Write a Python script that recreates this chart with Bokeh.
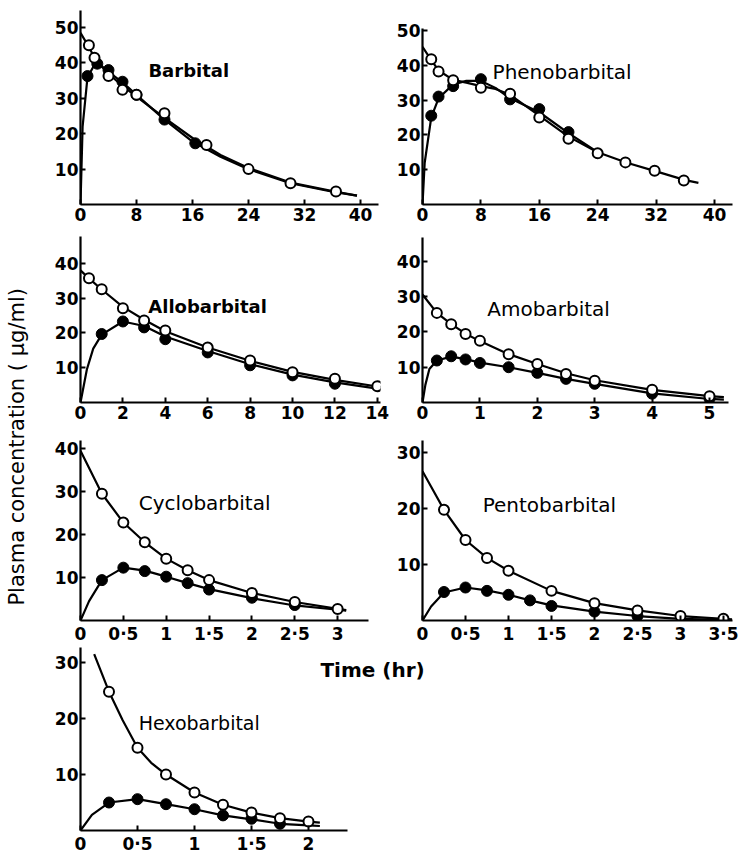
import math
from bokeh.plotting import figure
from bokeh.layouts import row, column
from bokeh.models import Range1d, FixedTicker, Label
from bokeh.embed import file_html
from bokeh.resources import INLINE

# ---------------- data ----------------
# Barbital (time in hr)
barb_t_iv = [1.2, 2, 4, 6, 8, 12, 18, 24, 30, 36.5]
barb_c_iv = [45, 41.5, 36.3, 32.4, 31, 25.8, 16.8, 10, 6, 3.7]
barb_t_po = [1, 2.4, 4, 6, 8, 12, 16.4]
barb_c_po = [36.3, 39.8, 38, 34.7, 31, 24, 17.3]
barb_fit_iv_t = [0, 1.2, 2, 4, 6, 8, 12, 16, 20, 24, 30, 36, 39.5]
barb_fit_iv_c = [48.5, 44.5, 41.5, 37, 33.5, 30.5, 24.5, 18.8, 14, 10.3, 6.2, 3.8, 2.5]
barb_fit_po_t = [0, 0.3, 1, 2, 3, 4, 6, 8, 12, 16, 20, 24, 30, 36, 39.5]
barb_fit_po_c = [0, 22, 36, 39.5, 39, 37.5, 34.5, 31, 24, 17.8, 13.5, 10, 6, 3.6, 2.5]

# Phenobarbital
phen_t_iv = [1.2, 2.2, 4.2, 8, 12, 16, 20, 24, 27.8, 31.8, 35.8]
phen_c_iv = [41.7, 38.2, 35.7, 33.5, 31.8, 25, 18.9, 14.7, 12.1, 9.7, 6.9]
phen_t_po = [1.2, 2.2, 4.2, 8, 12, 16, 20]
phen_c_po = [25.5, 31, 34, 36, 30.2, 27.4, 20.8]
phen_fit_iv_t = [0, 1.2, 2.2, 4.2, 6, 8, 10, 12, 16, 20, 24, 28, 32, 36, 37.8]
phen_fit_iv_c = [45.3, 41.5, 38.5, 35.8, 35, 34, 33.2, 31.5, 25.5, 19.5, 15, 12, 9.5, 7, 6.2]
phen_fit_po_t = [0, 0.3, 1.2, 2.2, 4.2, 6, 8, 10, 12, 16, 20, 24]
phen_fit_po_c = [0, 12, 25, 30.5, 34.5, 35.5, 35.5, 33.5, 30.5, 26.5, 20.5, 15]

# Allobarbital
allo_t_iv = [0.4, 1, 2, 3, 4, 6, 8, 10, 12, 14]
allo_c_iv = [35.7, 32.6, 27.1, 23.6, 20.7, 15.8, 12.1, 8.7, 6.8, 4.7]
allo_t_po = [1, 2, 3, 4, 6, 8, 10, 12]
allo_c_po = [19.7, 23.3, 21.6, 18.2, 14.4, 10.7, 7.8, 5.4]
allo_fit_iv_t = [0, 0.4, 1, 2, 3, 4, 6, 8, 10, 12, 14, 14.3]
allo_fit_iv_c = [38, 35.7, 32.5, 27.5, 23.8, 20.5, 15.8, 12, 8.8, 6.5, 4.6, 4.4]
allo_fit_po_t = [0, 0.3, 0.6, 1, 2, 3, 4, 6, 8, 10, 12, 14, 14.3]
allo_fit_po_c = [0, 9.5, 15.5, 19.5, 23.3, 22, 19, 14.8, 11, 8, 5.8, 4, 3.8]

# Amobarbital
amo_t_iv = [0.25, 0.5, 0.75, 1, 1.5, 2, 2.5, 3, 4, 5]
amo_c_iv = [25.4, 22.2, 19.4, 17.5, 13.7, 10.9, 8.1, 6.2, 3.6, 1.8]
amo_t_po = [0.25, 0.5, 0.75, 1, 1.5, 2, 2.5, 3, 4, 5]
amo_c_po = [11.9, 13.1, 12.2, 11.2, 10, 8.4, 6.7, 5.3, 2.5, 1.1]
amo_fit_iv_t = [0, 0.25, 0.5, 0.75, 1, 1.5, 2, 2.5, 3, 4, 5, 5.25]
amo_fit_iv_c = [30.6, 25.4, 22.2, 19.5, 17.4, 13.7, 10.9, 8.3, 6.3, 3.6, 1.8, 1.5]
amo_fit_po_t = [0, 0.05, 0.12, 0.25, 0.5, 0.75, 1, 1.5, 2, 2.5, 3, 4, 5, 5.25]
amo_fit_po_c = [0, 5, 9.5, 11.9, 13, 12.3, 11.3, 10, 8.4, 6.7, 5.3, 2.6, 1, 0.8]

# Cyclobarbital
cyc_t_iv = [0.25, 0.5, 0.75, 1, 1.25, 1.5, 2, 2.5, 3]
cyc_c_iv = [29.5, 22.8, 18.2, 14.4, 11.7, 9.4, 6.4, 4.3, 2.7]
cyc_t_po = [0.25, 0.5, 0.75, 1, 1.25, 1.5, 2, 2.5]
cyc_c_po = [9.4, 12.3, 11.5, 10.2, 8.7, 7.2, 5.3, 3.6]
cyc_fit_iv_t = [0, 0.25, 0.5, 0.75, 1, 1.25, 1.5, 2, 2.5, 3, 3.1]
cyc_fit_iv_c = [39.5, 29.5, 22.8, 18.2, 14.4, 11.7, 9.4, 6.4, 4.3, 2.7, 2.4]
cyc_fit_po_t = [0, 0.1, 0.25, 0.5, 0.75, 1, 1.25, 1.5, 2, 2.5, 3, 3.1]
cyc_fit_po_c = [0, 4.5, 9.4, 12.3, 11.6, 10.2, 8.7, 7.3, 5.2, 3.5, 2.5, 2.3]

# Pentobarbital
pen_t_iv = [0.25, 0.5, 0.75, 1, 1.5, 2, 2.5, 3, 3.5]
pen_c_iv = [19.8, 14.4, 11.2, 8.9, 5.3, 3.1, 1.8, 0.8, 0.3]
pen_t_po = [0.25, 0.5, 0.75, 1, 1.25, 1.5, 2, 2.5]
pen_c_po = [5.1, 5.9, 5.3, 4.6, 3.6, 2.6, 1.6, 0.8]
pen_fit_iv_t = [0, 0.25, 0.5, 0.75, 1, 1.5, 2, 2.5, 3, 3.5, 3.6]
pen_fit_iv_c = [26.7, 19.8, 14.4, 11.2, 8.9, 5.3, 3.1, 1.8, 0.8, 0.3, 0.2]
pen_fit_po_t = [0, 0.1, 0.25, 0.5, 0.75, 1, 1.25, 1.5, 2, 2.5, 3, 3.5, 3.6]
pen_fit_po_c = [0, 2.5, 5, 5.9, 5.4, 4.6, 3.6, 2.7, 1.6, 0.8, 0.3, 0.1, 0]

# Hexobarbital
hex_t_iv = [0.25, 0.5, 0.75, 1, 1.25, 1.5, 1.75, 2]
hex_c_iv = [24.8, 14.8, 10.0, 6.8, 4.6, 3.2, 2.2, 1.6]
hex_t_po = [0.25, 0.5, 0.75, 1, 1.25, 1.5, 1.75]
hex_c_po = [5.0, 5.6, 4.7, 3.8, 2.7, 2.1, 1.2]
hex_fit_iv_t = [0.12, 0.25, 0.37, 0.5, 0.62, 0.75, 1, 1.25, 1.5, 1.75, 2, 2.1]
hex_fit_iv_c = [31.5, 24.8, 19.7, 14.8, 12.1, 10, 6.8, 4.6, 3.2, 2.2, 1.6, 1.4]
hex_fit_po_t = [0, 0.1, 0.25, 0.5, 0.75, 1, 1.25, 1.5, 1.75, 2, 2.1]
hex_fit_po_c = [0, 2.8, 5, 5.6, 4.7, 3.8, 2.7, 2.0, 1.2, 0.9, 0.8]

# tick values / labels
ticks_x_40 = [0, 8, 16, 24, 32, 40]
ticks_x_14 = [0, 2, 4, 6, 8, 10, 12, 14]
ticks_x_5 = [0, 1, 2, 3, 4, 5]
ticks_x_3 = [0, 0.5, 1, 1.5, 2, 2.5, 3]
ticks_x_35 = [0, 0.5, 1, 1.5, 2, 2.5, 3, 3.5]
ticks_x_2 = [0, 0.5, 1, 1.5, 2]
ticks_y_50 = [10, 20, 30, 40, 50]
ticks_y_40 = [10, 20, 30, 40]
ticks_y_30 = [10, 20, 30]
half_labels = {0.5: "0·5", 1.5: "1·5", 2.5: "2·5", 3.5: "3·5"}

names = ["Barbital", "Phenobarbital", "Allobarbital", "Amobarbital",
         "Cyclobarbital", "Pentobarbital", "Hexobarbital"]
y_title = "Plasma  concentration ( μg/ml)"
x_title = "Time  (hr)"

FONT = "DejaVu Sans"


def panel(name, t_iv, c_iv, t_po, c_po, fiv_t, fiv_c, fpo_t, fpo_c,
          xt, yt, width, height, borders, x_end, y_end, x_axis_end, y_axis_end,
          title_pos, title_style):
    bl, br, bt, bb = borders
    p = figure(width=width, height=height, output_backend="svg", toolbar_location=None,
               x_range=Range1d(0, x_end), y_range=Range1d(0, y_end),
               min_border_left=bl, min_border_right=br, min_border_top=bt,
               min_border_bottom=bb)
    p.outline_line_color = None
    p.xgrid.visible = False
    p.ygrid.visible = False
    p.background_fill_color = "white"
    p.border_fill_color = "white"
    for ax, ticks, end in ((p.xaxis[0], xt, x_axis_end), (p.yaxis[0], yt, y_axis_end)):
        ax.ticker = FixedTicker(ticks=ticks)
        ax.bounds = (0, end)
        ax.axis_line_width = 2.2
        ax.axis_line_color = "black"
        ax.major_tick_line_width = 2
        ax.major_tick_line_color = "black"
        ax.major_tick_in = 5
        ax.major_tick_out = 0
        ax.minor_tick_line_color = None
        ax.major_label_standoff = 3
        ax.major_label_text_font = FONT
        ax.major_label_text_font_style = "bold"
        ax.major_label_text_font_size = "17px"
        ax.major_label_text_color = "black"
    p.xaxis[0].major_label_overrides = {k: v for k, v in half_labels.items() if k in xt}
    p.yaxis[0].major_label_standoff = 2

    p.line(fiv_t, fiv_c, line_color="black", line_width=2.2)
    p.line(fpo_t, fpo_c, line_color="black", line_width=2.2)
    p.scatter(t_po, c_po, marker="circle", size=11, fill_color="black", line_color="black")
    p.scatter(t_iv, c_iv, marker="circle", size=10, fill_color="white",
              line_color="black", line_width=2)
    bold, fsize = title_style
    p.add_layout(Label(x=title_pos[0], y=title_pos[1], text=name, text_font=FONT,
                       text_font_size=fsize, text_font_style="bold" if bold else "normal",
                       text_baseline="middle", text_align="left", text_color="black"))
    return p


# row 1: frame 8..204
p1 = panel(names[0], barb_t_iv, barb_c_iv, barb_t_po, barb_c_po,
           barb_fit_iv_t, barb_fit_iv_c, barb_fit_po_t, barb_fit_po_c,
           ticks_x_40, ticks_y_50, 352, 228, (40, 12, 8, 24), 42.86, 55.4, 42.57, 54.7,
           (9.7, 37.9), (True, "18px"))
p2 = panel(names[1], phen_t_iv, phen_c_iv, phen_t_po, phen_c_po,
           phen_fit_iv_t, phen_fit_iv_c, phen_fit_po_t, phen_fit_po_c,
           ticks_x_40, ticks_y_50, 349, 228, (30, 9, 8, 24), 42.47, 56.3, 42.47, 50.6,
           (9.6, 38.0), (False, "20px"))
# row 2: frame 233..402
p3 = panel(names[2], allo_t_iv, allo_c_iv, allo_t_po, allo_c_po,
           allo_fit_iv_t, allo_fit_iv_c, allo_fit_po_t, allo_fit_po_c,
           ticks_x_14, ticks_y_40, 352, 200, (40, 12, 5, 26), 14.15, 48.6, 14.15, 47.7,
           (3.2, 27.6), (True, "18px"))
p4 = panel(names[3], amo_t_iv, amo_c_iv, amo_t_po, amo_c_po,
           amo_fit_iv_t, amo_fit_iv_c, amo_fit_po_t, amo_fit_po_c,
           ticks_x_5, ticks_y_40, 349, 200, (30, 9, 5, 26), 5.40, 47.9, 5.33, 46.7,
           (1.13, 26.5), (False, "20px"))
# row 3: frame 440..622
p5 = panel(names[4], cyc_t_iv, cyc_c_iv, cyc_t_po, cyc_c_po,
           cyc_fit_iv_t, cyc_fit_iv_c, cyc_fit_po_t, cyc_fit_po_c,
           ticks_x_3, ticks_y_40, 352, 218, (40, 12, 12, 24), 3.50, 41.9, 3.36, 41.9,
           (0.68, 27.3), (False, "20px"))
p6 = panel(names[5], pen_t_iv, pen_c_iv, pen_t_po, pen_c_po,
           pen_fit_iv_t, pen_fit_iv_c, pen_fit_po_t, pen_fit_po_c,
           ticks_x_35, ticks_y_30, 349, 218, (30, 9, 12, 24), 3.605, 32.2, 3.605, 32.2,
           (0.70, 20.7), (False, "20px"))
# row 4: frame 647..830
p7 = panel(names[6], hex_t_iv, hex_c_iv, hex_t_po, hex_c_po,
           hex_fit_iv_t, hex_fit_iv_c, hex_fit_po_t, hex_fit_po_c,
           ticks_x_2, ticks_y_30, 701, 210, (40, 1, 1, 26), 5.79, 32.7, 2.34, 32.7,
           (0.51, 19.2), (False, "19px"))
p7.add_layout(Label(x=2.105, y=28.6, text=x_title, text_font=FONT, text_font_size="20px",
                    text_font_style="bold", text_baseline="middle", text_align="left",
                    text_color="black"))

# y-axis title strip
pl = figure(width=40, height=856, output_backend="svg", toolbar_location=None,
            x_range=Range1d(0, 1), y_range=Range1d(0, 1), min_border=0)
pl.outline_line_color = None
pl.axis.visible = False
pl.grid.visible = False
pl.add_layout(Label(x=0.41, y=0.4825, text=y_title, angle=math.pi / 2, text_font=FONT,
                    text_font_size="21px", text_align="center", text_baseline="middle",
                    text_color="black"))

layout = row(pl, column(row(p1, p2), row(p3, p4), row(p5, p6), p7))

with open("out.html", "w") as f:
    f.write(file_html(layout, INLINE))
